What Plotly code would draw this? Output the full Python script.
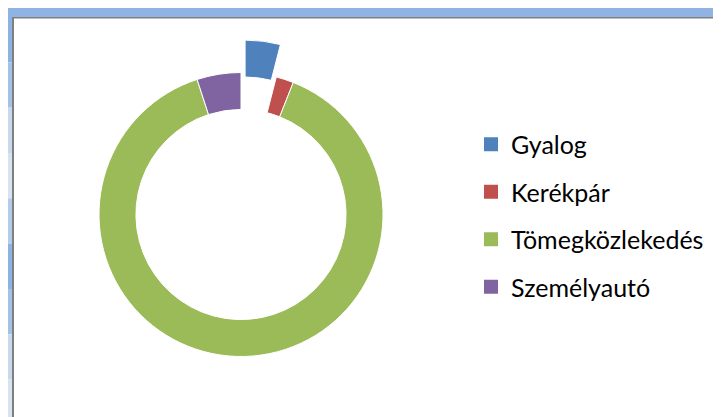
import plotly.graph_objects as go

labels = ["Gyalog", "Kerékpár", "Tömegközlekedés", "Személyautó"]
values = [4, 2, 89, 5]
colors = ["#4F81BD", "#C0504D", "#9BBB59", "#8064A2"]
pulls = [0.23, 0, 0, 0]

W, H = 721, 417
cx, cy, R = 233, 206.5, 142
maxpull = max(pulls)
half = R * (1 + maxpull)
dom_x = [(cx - half) / W, (cx + half) / W]
dom_y = [(H - cy - half) / H, (H - cy + half) / H]

fig = go.Figure()
fig.add_trace(go.Pie(
    labels=labels, values=values, hole=0.74, sort=False, direction="clockwise",
    rotation=0, pull=pulls, textinfo="none", hoverinfo="label+percent",
    marker=dict(colors=colors, line=dict(color="white", width=1)),
    domain=dict(x=dom_x, y=dom_y), showlegend=False,
))
for i, (lab, col) in enumerate(zip(labels, colors)):
    fig.add_trace(go.Scatter(
        x=[None], y=[None], mode="markers", name=lab, legendgroup=lab,
        marker=dict(symbol="square", size=14, color=col), showlegend=True,
    ))

shapes = [
    dict(type="rect", xref="paper", yref="paper", x0=0, x1=1, y0=1 - 9 / H, y1=1,
         fillcolor="#8FB4E3", line=dict(width=0), layer="above"),
]
left_bands = ["#8DB3E2", "#A4C1E6", "#C8D9EE", "#D8E3F0", "#B4CBEA", "#8DB3E2", "#A4C1E6", "#C8D9EE", "#D8E3F0"]
n = len(left_bands)
for i, c in enumerate(left_bands):
    shapes.append(dict(type="rect", xref="paper", yref="paper", x0=0, x1=4 / W,
                       y0=1 - (9 + (H - 9) * (i + 1) / n) / H, y1=1 - (9 + (H - 9) * i / n) / H,
                       fillcolor=c, line=dict(width=0), layer="above"))
shapes.append(dict(type="rect", xref="paper", yref="paper", x0=4 / W, x1=6 / W, y0=0, y1=1 - 9 / H,
                   fillcolor="#808080", line=dict(width=0), layer="above"))
shapes.append(dict(type="rect", xref="paper", yref="paper", x0=4 / W, x1=1, y0=1 - 10.5 / H, y1=1 - 9 / H,
                   fillcolor="#808080", line=dict(width=0), layer="above"))

fig.update_layout(
    width=W, height=H, margin=dict(l=0, r=0, t=0, b=0),
    paper_bgcolor="white", plot_bgcolor="white",
    xaxis=dict(visible=False), yaxis=dict(visible=False),
    font=dict(family="Lato, Carlito, Calibri, sans-serif", color="#000000"),
    legend=dict(x=463 / W, y=1 - 113.5 / H, xanchor="left", yanchor="top",
                font=dict(size=25), tracegroupgap=12, bgcolor="rgba(0,0,0,0)"),
    shapes=shapes,
)
fig.write_html("out.html")
